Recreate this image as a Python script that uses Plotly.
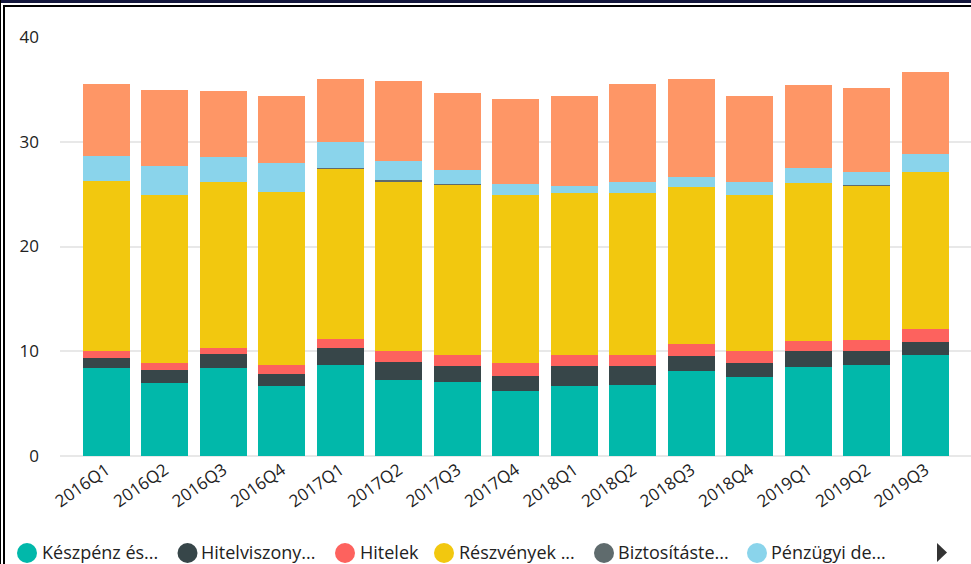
import plotly.graph_objects as go

# negyedévek
quarters = ["2016Q1", "2016Q2", "2016Q3", "2016Q4", "2017Q1", "2017Q2", "2017Q3", "2017Q4",
            "2018Q1", "2018Q2", "2018Q3", "2018Q4", "2019Q1", "2019Q2", "2019Q3"]

keszpenz = [8.4, 6.95, 8.4, 6.7, 8.7, 7.25, 7.05, 6.2, 6.7, 6.8, 8.1, 7.55, 8.5, 8.7, 9.65]
hitelviszony = [0.95, 1.25, 1.35, 1.15, 1.6, 1.7, 1.55, 1.45, 1.9, 1.8, 1.45, 1.35, 1.5, 1.3, 1.25]
hitelek = [0.65, 0.65, 0.55, 0.85, 0.85, 1.05, 1.05, 1.25, 1.05, 1.05, 1.15, 1.1, 1.0, 1.05, 1.2]
reszvenyek = [16.3, 16.05, 15.9, 16.55, 16.25, 16.25, 16.25, 16.0, 15.45, 15.45, 15.0, 14.9, 15.1, 14.75, 15.0]
biztositas = [0, 0, 0, 0, 0.08, 0.08, 0.08, 0, 0, 0, 0, 0, 0, 0.08, 0]
derivativak = [2.35, 2.8, 2.3, 2.75, 2.5, 1.8, 1.35, 1.1, 0.7, 1.1, 0.95, 1.25, 1.35, 1.2, 1.75]
egyeb = [6.85, 7.25, 6.3, 6.4, 6.0, 7.7, 7.35, 8.1, 8.6, 9.3, 9.35, 8.25, 7.95, 8.05, 7.85]

names = ["Készpénz és betétek", "Hitelviszonyt megtestesítő értékpapírok", "Hitelek",
         "Részvények és befektetési jegyek", "Biztosítástechnikai tartalékok",
         "Pénzügyi derivatívák", "Egyéb követelések"]
legend_labels = ["Készpénz és...", "Hitelviszony...", "Hitelek", "Részvények ...",
                 "Biztosításte...", "Pénzügyi de..."]
colors = ["#01B8AA", "#374649", "#FD625E", "#F2C80F", "#5F6B6D", "#8AD4EB", "#FE9666"]
series = [keszpenz, hitelviszony, hitelek, reszvenyek, biztositas, derivativak, egyeb]

W, H = 971, 564
L, R, T, B = 60, 0, 37, 108
pw, ph = W - L - R, H - T - B


def px(x):
    return (x - L) / pw


def py(y):
    return (H - B - y) / ph


FONT = "Open Sans, Noto Sans, sans-serif"

fig = go.Figure()
for name, vals, col in zip(names, series, colors):
    fig.add_trace(go.Bar(x=quarters, y=vals, name=name, marker_color=col,
                         marker_line_width=0, showlegend=False))

fig.update_layout(
    barmode="stack",
    bargap=0.2,
    width=W, height=H,
    margin=dict(l=L, r=R, t=T, b=B),
    plot_bgcolor="white",
    paper_bgcolor="white",
    font=dict(family=FONT, size=18, color="#222222"),
    xaxis=dict(range=[-0.79, 14.78], tickangle=-35, showgrid=False, showline=False,
               ticks="", tickfont=dict(size=17)),
    yaxis=dict(range=[0, 40], tickvals=[0, 10, 20, 30, 40], showgrid=True,
               gridcolor="#e8e8e8", gridwidth=1.5, zeroline=True, zerolinecolor="#e8e8e8",
               zerolinewidth=1.5, showline=False, ticks="", ticklabelstandoff=20,
               tickfont=dict(size=17)),
)

shapes = []
# keret
shapes.append(dict(type="rect", xref="paper", yref="paper", x0=px(0), x1=px(W), y0=py(0), y1=py(3),
                   fillcolor="#13173d", line_width=0, layer="above"))
shapes.append(dict(type="line", xref="paper", yref="paper", x0=px(3), x1=px(W), y0=py(6), y1=py(6),
                   line=dict(color="black", width=2), layer="above"))
shapes.append(dict(type="line", xref="paper", yref="paper", x0=px(0.5), x1=px(0.5), y0=py(0), y1=py(H),
                   line=dict(color="black", width=1), layer="above"))
shapes.append(dict(type="line", xref="paper", yref="paper", x0=px(4), x1=px(4), y0=py(5), y1=py(H),
                   line=dict(color="black", width=2), layer="above"))

# jelmagyarázat
circle_x = [27, 187.5, 345, 444, 604, 757]
text_x = [40, 199, 358, 457, 616, 769]
cy, r = 553, 10
annotations = []
for cx, tx, lab, col in zip(circle_x, text_x, legend_labels, colors):
    shapes.append(dict(type="circle", xref="paper", yref="paper",
                       x0=px(cx - r), x1=px(cx + r), y0=py(cy - r), y1=py(cy + r),
                       fillcolor=col, line_width=0))
    annotations.append(dict(xref="paper", yref="paper", x=px(tx), y=py(cy - 1), text=lab,
                            showarrow=False, xanchor="left", yanchor="middle",
                            font=dict(size=18, color="#222222", family=FONT)))
shapes.append(dict(type="path", xref="paper", yref="paper",
                   path=f"M {px(937)} {py(543)} L {px(947)} {py(552.5)} L {px(937)} {py(562)} Z",
                   fillcolor="#333333", line_width=0))

fig.update_layout(shapes=shapes, annotations=annotations)
fig.write_html("out.html", config={"displayModeBar": False},
               post_script="document.body.style.margin='0';document.body.style.overflow='hidden';")
